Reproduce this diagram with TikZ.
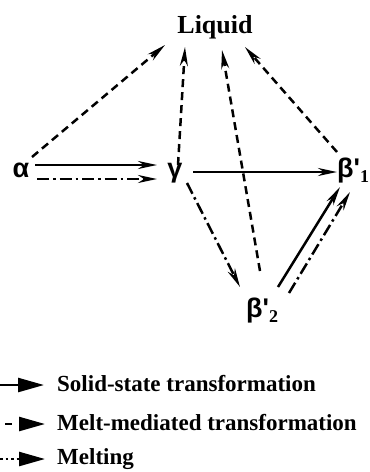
\documentclass[tikz,border=0pt]{standalone}
\usepackage{fontspec}
\setmainfont{Liberation Serif}
\newfontfamily\greekfont[Ligatures=TeXOff]{Liberation Sans}
\usetikzlibrary{arrows.meta,calc}

\begin{document}
\begin{tikzpicture}[x=1pt,y=-1pt,
    phase/.style={inner sep=0pt, font=\greekfont\bfseries\fontsize{27}{30}\selectfont},
    liquidtext/.style={inner sep=0pt, font=\bfseries\fontsize{26}{30}\selectfont},
    keytext/.style={inner sep=0pt, anchor=base west, font=\bfseries\fontsize{23}{27}\selectfont},
    solidarrow/.style={line width=2.5pt, -{Stealth[length=19pt,width=8pt,inset=6pt]}},
    mediatedarrow/.style={solidarrow, dash pattern=on 12pt off 4pt on 2.5pt off 4pt},
    meltarrow/.style={solidarrow, dash pattern=on 8pt off 5pt},
    keyarrow/.style={line width=2.5pt, -{Triangle[length=26pt,width=14pt]}}]
  \useasboundingbox (0,0) rectangle (370,472);

  % phases
  \node[liquidtext, anchor=base] (liquid) at (215,33) {Liquid};
  \node[phase, anchor=base] (alpha) at (21,177) {α};
  \node[phase, anchor=base] (gamma) at (175,177) {γ};
  \node[phase, anchor=base west] (betaone) at (337,177)
    {β'\raisebox{-5pt}{\normalfont\bfseries\fontsize{18}{18}\selectfont 1}};
  \node[phase, anchor=base west] (betatwo) at (246,317)
    {β'\raisebox{-5pt}{\normalfont\bfseries\fontsize{18}{18}\selectfont 2}};

  % melting
  \draw[meltarrow] ($(alpha.base)+(11,-20)$) -- ($(liquid.base)+(-50,12)$);
  \draw[meltarrow] ($(gamma.base)+(3,-12)$) -- ($(liquid.base)+(-30,14)$);
  \draw[meltarrow] ($(betatwo.base west)+(14,-46)$) -- ($(liquid.base)+(7,17)$);
  \draw[meltarrow] ($(betaone.base west)+(0,-25)$) -- ($(liquid.base)+(30,14)$);

  % solid-state and melt-mediated
  \draw[solidarrow] ($(alpha.base)+(14,-12)$) -- ($(gamma.base)+(-18,-12)$);
  \draw[mediatedarrow] ($(alpha.base)+(16,2)$) -- ($(gamma.base)+(-18,2)$);
  \draw[solidarrow] ($(gamma.base)+(18,-5)$) -- ($(betaone.base west)+(0,-5)$);
  \draw[mediatedarrow] ($(gamma.base)+(12,6)$) -- ($(betatwo.base west)+(-6,-30)$);
  \draw[solidarrow] ($(betatwo.base west)+(32,-30)$) -- ($(betaone.base west)+(3,10)$);
  \draw[mediatedarrow] ($(betatwo.base west)+(43,-24)$) -- ($(betaone.base west)+(13,15)$);

  % key
  \node[keytext] (solidkey) at (57,391) {Solid-state transformation};
  \node[keytext] (mediatedkey) at (57,430) {Melt-mediated transformation};
  \node[keytext] (meltkey) at (57,464) {Melting};
  \coordinate (solidstart) at (-10,385);
  \coordinate (mediatedstart) at (5,424);
  \coordinate (meltstart) at (0,459);
  \draw[keyarrow, dash pattern=on 7pt off 30pt] (mediatedstart) -- ($(mediatedkey.base west)+(-12,-6)$);
  \draw[keyarrow] (solidstart) -- ($(solidkey.base west)+(-13,-6)$);
  \draw[keyarrow, dash pattern=on 2.5pt off 3pt] (meltstart) -- ($(meltkey.base west)+(-12,-5)$);
\end{tikzpicture}
\end{document}
